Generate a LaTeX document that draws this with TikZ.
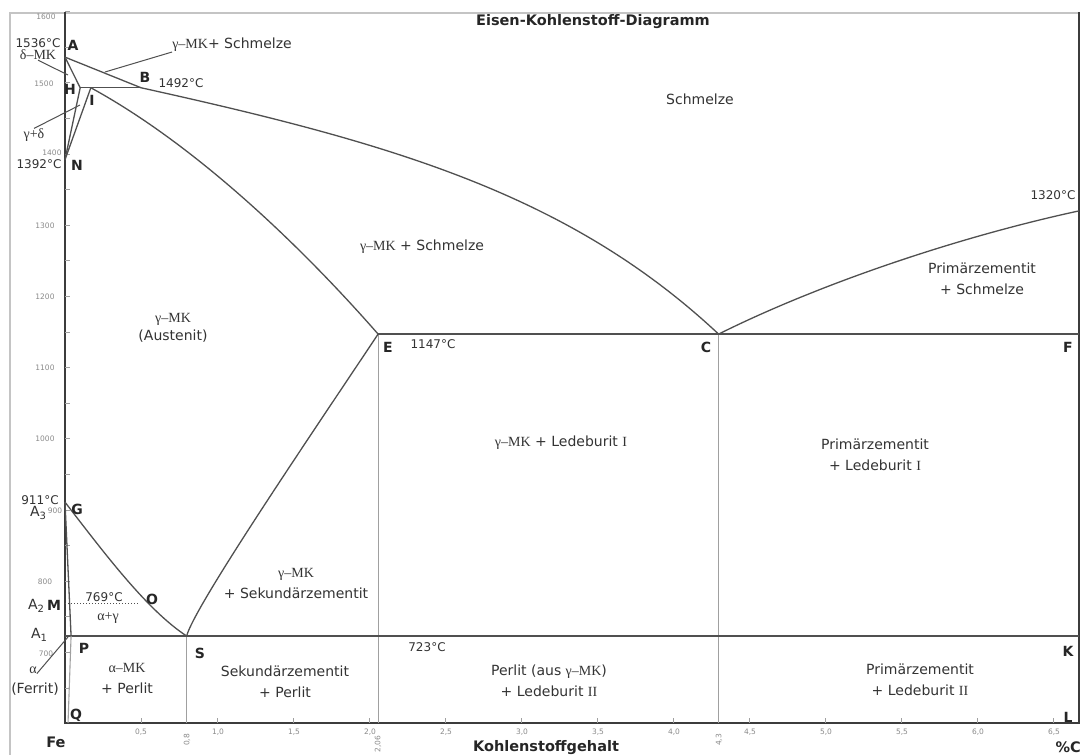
\documentclass[tikz,border=0pt]{standalone}
\usepackage{fontspec}
\setmainfont{DejaVu Sans}
\newfontfamily\sr{Liberation Serif}
\newcommand\mysub[1]{\raisebox{-0.45ex}{\fontsize{10}{10}\selectfont #1}}
\definecolor{linec}{HTML}{505050}
\definecolor{axisc}{HTML}{3C3C3C}
\definecolor{framec}{HTML}{C4C4C4}
\definecolor{thinc}{HTML}{A0A0A0}
\definecolor{txt}{HTML}{333333}
\definecolor{tickt}{HTML}{8A8A8A}
\begin{document}
\begin{tikzpicture}[x=1pt,y=-1pt,
  ph/.style={draw=linec, line width=1.3pt, line join=round},
  thinl/.style={draw=thinc, line width=0.9pt},
  ldr/.style={draw=linec, line width=1pt},
  lab/.style={font=\fontsize{14}{21}\selectfont, text=txt, align=center, inner sep=0pt},
  ptl/.style={font=\fontsize{14}{16}\selectfont\bfseries, text=black!85, inner sep=0pt},
  tmp/.style={font=\fontsize{12}{14}\selectfont, text=txt, inner sep=0pt},
  tkl/.style={font=\fontsize{7.5}{9}\selectfont, text=tickt, inner sep=0pt},
  tit/.style={font=\fontsize{14.5}{16}\selectfont\bfseries, text=black!85, inner sep=0pt}]
\useasboundingbox (0,0) rectangle (1080,755);
\fill[white] (0,0) rectangle (1080,755);
% frame
\draw[framec, line width=2.5pt] (10,760) -- (10,13) -- (1080,13);
% data coordinates
\begin{scope}[shift={(65pt,-1150.776pt)}, x=152pt, y=0.712pt]
  \coordinate (A) at (0,1536);
  \coordinate (H) at (0.1,1493);
  \coordinate (I) at (0.17,1493);
  \coordinate (B) at (0.5,1493);
  \coordinate (N) at (0,1392);
  \coordinate (E) at (2.06,1147);
  \coordinate (C) at (4.3,1147);
  \coordinate (F) at (6.67,1147);
  \coordinate (Z) at (6.67,1320);
  \coordinate (G) at (0,911);
  \coordinate (O) at (0.48,769);
  \coordinate (M) at (0,769);
  \coordinate (S) at (0.8,723);
  \coordinate (P) at (0.04,723);
  \coordinate (P0) at (0,723);
  \coordinate (K) at (6.67,723);
  \coordinate (Q) at (0.02,601);
  \coordinate (S0) at (0.8,601);
  \coordinate (E0) at (2.06,601);
  \coordinate (C0) at (4.3,601);
  \coordinate (O0) at (0,601);
  \coordinate (R0) at (6.67,601);
  \coordinate (T0) at (0,1600);
  \coordinate (R1) at (6.67,1600);
  % axes
  \draw[axisc, line width=1.5pt] (T0) -- (O0) -- (R0) -- (R1);
  % y minor ticks
  \foreach \t in {650,700,...,1600} \draw[thinc, line width=0.7pt] (0,\t) -- ++(5pt,0);
  % x ticks
  \foreach \c in {0.5,0.8,1,1.5,2,2.06,2.5,3,3.5,4,4.3,4.5,5,5.5,6,6.5} \draw[thinc, line width=0.7pt] (\c,601) -- ++(0,5pt);
  % thin verticals
  \draw[thinl] (S) -- (S0);
  \draw[thinl] (E) -- (E0);
  \draw[thinl] (C) -- (C0);
\end{scope}
% phase lines (control points in pixel coordinates)
\draw[ph] (A) -- (B);
\draw[ph] (B) .. controls (391,143) and (569,194) .. (C);
\draw[ph] (I) .. controls (201,148) and (308,254) .. (E);
\draw[ph] (C) .. controls (819,284) and (958,237) .. (Z);
\draw[ph] (G) .. controls (105,554) and (147,610) .. (S);
\draw[ph] (S) .. controls (195,606) and (300,451) .. (E);
\draw[ph] (H) -- (B);
\draw[ph] (A) -- (H) -- (N);
\draw[ph] (I) -- (N);
\draw[ph] (E) -- (F);
\draw[ph] (P0) -- (K);
\draw[ph] (G) -- (P);
\draw[thinl, line width=1.1pt] (P) -- (Q);
\draw[linec, line width=1pt, dotted] (M) -- (O);
% title and axis titles
\node[tit] (title) at (593,22) {Eisen-Kohlenstoff-Diagramm};
\node[tit] (fe) at (56,742) {Fe};
\node[tit] (kg) at (546,748) {Kohlenstoffgehalt};
\node[tit, anchor=east] (pc) at (1081,747) {\%C};
% y tick labels
\node[tkl] (y16) at (46,17) {1600};
\node[tkl] (y15) at (44,84) {1500};
\node[tkl] (y14) at (52,153) {1400};
\node[tkl] (y13) at (45,226) {1300};
\node[tkl] (y12) at (45,297) {1200};
\node[tkl] (y11) at (45,368) {1100};
\node[tkl] (y10) at (45,439) {1000};
\node[tkl] (y9) at (55,511) {900};
\node[tkl] (y8) at (45,582) {800};
\node[tkl] (y7) at (46,654) {700};
% x tick labels
\node[tkl] (x05) at (141,732) {0,5};
\node[tkl, rotate=90] (x08) at (187,740) {0,8};
\node[tkl] (x10) at (218,732) {1,0};
\node[tkl] (x15) at (294,732) {1,5};
\node[tkl] (x20) at (370,732) {2,0};
\node[tkl, rotate=90] (x206) at (378,744) {2,06};
\node[tkl] (x25) at (446,732) {2,5};
\node[tkl] (x30) at (522,732) {3,0};
\node[tkl] (x35) at (598,732) {3,5};
\node[tkl] (x40) at (674,732) {4,0};
\node[tkl, rotate=90] (x43) at (719,740) {4,3};
\node[tkl] (x45) at (750,732) {4,5};
\node[tkl] (x50) at (826,732) {5,0};
\node[tkl] (x55) at (902,732) {5,5};
\node[tkl] (x60) at (978,732) {6,0};
\node[tkl] (x65) at (1054,732) {6,5};
% point letters
\node[ptl] (lA) at (73,45) {A};
\node[ptl] (lB) at (145,77) {B};
\node[ptl] (lH) at (70,89) {H};
\node[ptl] (lI) at (92,100) {I};
\node[ptl] (lN) at (77,165) {N};
\node[ptl] (lE) at (388,347) {E};
\node[ptl] (lC) at (706,347) {C};
\node[ptl] (lF) at (1068,347) {F};
\node[ptl] (lG) at (77,509) {G};
\node[ptl] (lO) at (152,599) {O};
\node[ptl] (lM) at (54,605) {M};
\node[ptl] (lP) at (84,648) {P};
\node[ptl] (lS) at (200,653) {S};
\node[ptl] (lK) at (1068,651) {K};
\node[ptl] (lQ) at (76,715) {Q};
\node[ptl] (lL) at (1068,717) {L};
% temperatures
\node[tmp] (t1536) at (38,43) {1536°C};
\node[tmp] (t1492) at (181,83) {1492°C};
\node[tmp] (t1392) at (39,164) {1392°C};
\node[tmp] (t1320) at (1053,195) {1320°C};
\node[tmp] (t1147) at (433,344) {1147°C};
\node[tmp] (t911) at (40,500) {911°C};
\node[tmp] (t769) at (104,597) {769°C};
\node[tmp] (t723) at (427,647) {723°C};
% A labels
\node[lab] (a3) at (38,513) {A\mysub{3}};
\node[lab] (a2) at (36,606) {A\mysub{2}};
\node[lab] (a1) at (39,635) {A\mysub{1}};
% region labels
\node[lab] (sch) at (700,99) {Schmelze};
\node[lab] (gms) at (422,247) {{\sr γ–MK} + Schmelze};
\node[lab] (aus) at (173,328) {{\sr γ–MK}\\[-3pt](Austenit)};
\node[lab] (pzs) at (982,279) {Primärzementit\\+ Schmelze};
\node[lab] (gml) at (561,443) {{\sr γ–MK} + Ledeburit {\sr I}};
\node[lab] (pzl1) at (875,455) {Primärzementit\\+ Ledeburit {\sr I}};
\node[lab] (gsk) at (296,584) {{\sr γ–MK}\\+ Sekundärzementit};
\node[lab] (skp) at (285,682) {Sekundärzementit\\+ Perlit};
\node[lab] (amp) at (127,679) {{\sr α–MK}\\+ Perlit};
\node[lab] (pal) at (549,681) {Perlit (aus {\sr γ–MK})\\+ Ledeburit {\sr II}};
\node[lab] (pzl2) at (920,680) {Primärzementit\\+ Ledeburit {\sr II}};
\node[lab] (apg) at (108,618) {\sr α+γ};
% labels with leaders
\node[lab] (lgs) at (232,45) {{\sr γ–MK}+ Schmelze};
\node[lab] (ldm) at (38,55) {\sr δ–MK};
\node[lab] (lgd) at (34,135) {\sr γ+δ};
\node[lab] (lal) at (33,670) {\sr α};
\node[lab] (lfe) at (35,689) {(Ferrit)};
\coordinate (lgsE) at (105,72);
\coordinate (ldmE) at (68,75);
\coordinate (lgdE) at (80,105);
\coordinate (lalE) at (68,637);
\draw[ldr] (lgs.south west) -- (lgsE);
\draw[ldr] (ldm.south) -- (ldmE);
\draw[ldr] (lgd.north) -- (lgdE);
\draw[ldr] (lal.south east) -- (lalE);
\end{tikzpicture}
\end{document}
